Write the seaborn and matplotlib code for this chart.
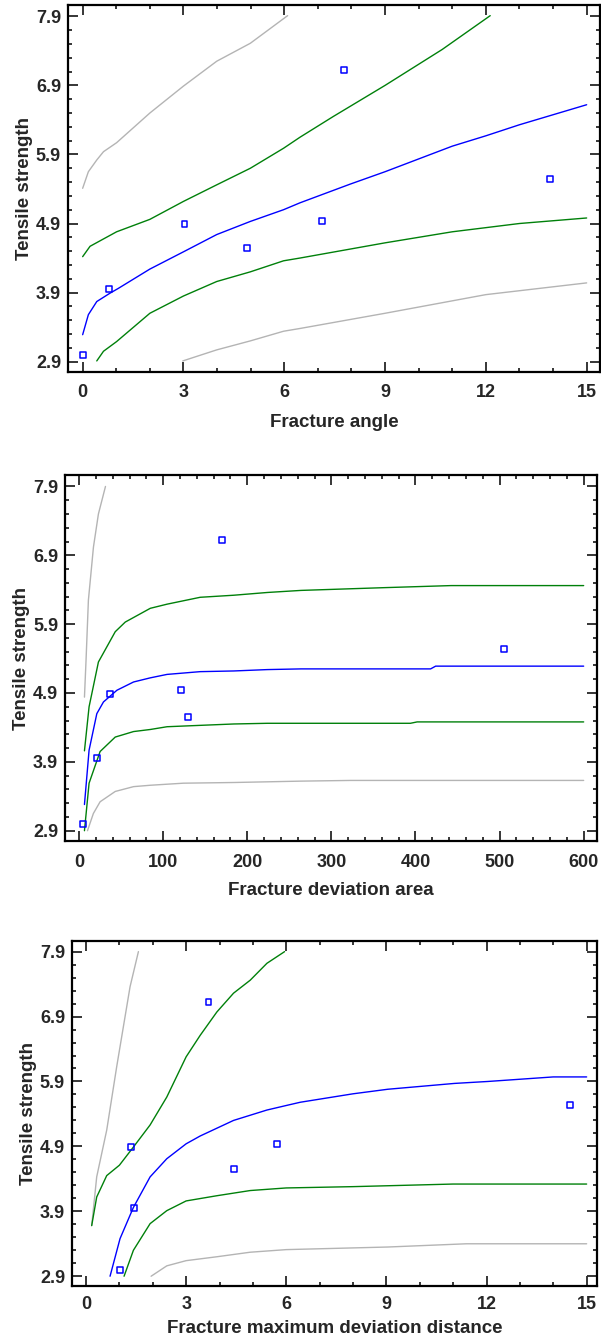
import matplotlib
matplotlib.use("Agg")
import matplotlib.pyplot as plt
from matplotlib.ticker import MultipleLocator
import seaborn as sns

# ---------------------------------------------------------
# Observed points (same tensile strengths in every panel)
# ---------------------------------------------------------
STRENGTH = [3.00, 3.95, 4.89, 4.55, 4.94, 7.12, 5.54]
ANGLE = [0.0, 0.78, 3.03, 4.88, 7.12, 7.79, 13.9]
DEV_AREA = [4.4, 21.8, 36.5, 129.4, 121.0, 170.0, 505.6]
MAX_DIST = [1.02, 1.44, 1.36, 4.44, 5.72, 3.67, 14.51]

# ---------------------------------------------------------
# Panel 1 curves: fit, confidence limits, prediction limits
# ---------------------------------------------------------
P1_FIT_X = [0.0, 0.17, 0.42, 0.81, 1.06, 2.0, 3.0, 3.99, 4.99, 5.98, 6.47, 7.96, 9.0, 11.0, 12.0, 13.0, 15.0]
P1_FIT_Y = [3.29, 3.58, 3.77, 3.89, 3.96, 4.24, 4.49, 4.74, 4.93, 5.10, 5.20, 5.47, 5.65, 6.02, 6.17, 6.33, 6.62]
P1_CU_X = [0.0, 0.22, 0.52, 1.01, 2.0, 3.0, 3.99, 4.99, 5.98, 6.47, 7.46, 9.0, 10.7, 12.13]
P1_CU_Y = [4.42, 4.57, 4.65, 4.78, 4.96, 5.22, 5.46, 5.70, 5.99, 6.15, 6.45, 6.90, 7.42, 7.91]
P1_CL_X = [0.42, 0.62, 1.01, 2.0, 3.0, 3.99, 4.99, 5.98, 6.47, 9.0, 11.0, 13.0, 15.0]
P1_CL_Y = [2.91, 3.05, 3.19, 3.60, 3.85, 4.06, 4.20, 4.36, 4.40, 4.62, 4.78, 4.90, 4.98]
P1_PU_X = [0.0, 0.17, 0.42, 0.62, 1.01, 2.0, 3.0, 3.99, 4.99, 6.10]
P1_PU_Y = [5.41, 5.65, 5.82, 5.94, 6.07, 6.50, 6.89, 7.25, 7.51, 7.91]
P1_PL_X = [2.98, 3.99, 4.99, 5.98, 6.47, 9.0, 12.0, 15.0]
P1_PL_Y = [2.91, 3.07, 3.20, 3.34, 3.38, 3.60, 3.87, 4.04]

# ---------------------------------------------------------
# Panel 2 curves
# ---------------------------------------------------------
P2_FIT_X = [6.4, 11.9, 21.1, 29, 45, 64.8, 84.7, 104.6, 144, 184, 224, 264, 418, 424, 600]
P2_FIT_Y = [3.28, 4.07, 4.60, 4.77, 4.94, 5.06, 5.12, 5.17, 5.21, 5.22, 5.24, 5.25, 5.25, 5.29, 5.29]
P2_CU_X = [6.4, 11.9, 23, 43, 54.9, 84.7, 104.6, 144, 184, 224, 264, 363, 442.5, 600]
P2_CU_Y = [4.06, 4.70, 5.35, 5.79, 5.93, 6.13, 6.19, 6.29, 6.32, 6.36, 6.39, 6.43, 6.46, 6.46]
P2_CL_X = [6.4, 11.9, 25, 43, 64.8, 84.7, 104.6, 144, 184, 224, 394, 402, 600]
P2_CL_Y = [2.90, 3.59, 4.05, 4.26, 4.34, 4.37, 4.41, 4.43, 4.45, 4.46, 4.46, 4.48, 4.48]
P2_PU_X = [6.4, 8.3, 11.1, 17.1, 23, 31.4]
P2_PU_Y = [4.84, 5.38, 6.25, 7.02, 7.50, 7.90]
P2_PL_X = [10, 17, 25, 43, 64.8, 84.7, 124, 184, 264, 323, 600]
P2_PL_Y = [2.90, 3.15, 3.32, 3.47, 3.54, 3.56, 3.59, 3.60, 3.62, 3.63, 3.63]

# ---------------------------------------------------------
# Panel 3 curves
# ---------------------------------------------------------
P3_FIT_X = [0.72, 1.02, 1.42, 1.92, 2.42, 3.0, 3.42, 4.42, 5.42, 6.0, 6.42, 8.0, 9.04, 11.04, 12.04, 14.0, 15.0]
P3_FIT_Y = [2.90, 3.48, 3.96, 4.43, 4.71, 4.94, 5.06, 5.30, 5.46, 5.53, 5.58, 5.71, 5.78, 5.87, 5.90, 5.97, 5.97]
P3_CU_X = [0.17, 0.32, 0.62, 1.0, 1.42, 1.92, 2.42, 3.0, 3.42, 3.92, 4.42, 4.92, 5.42, 5.95]
P3_CU_Y = [3.68, 4.12, 4.45, 4.61, 4.89, 5.23, 5.66, 6.28, 6.61, 6.97, 7.26, 7.46, 7.72, 7.90]
P3_CL_X = [1.14, 1.42, 1.92, 2.42, 3.0, 3.92, 4.92, 6.0, 8.0, 11.0, 15.0]
P3_CL_Y = [2.90, 3.30, 3.71, 3.91, 4.06, 4.14, 4.22, 4.26, 4.28, 4.32, 4.32]
P3_PU_X = [0.17, 0.32, 0.62, 0.92, 1.32, 1.57]
P3_PU_Y = [3.68, 4.43, 5.15, 6.13, 7.36, 7.90]
P3_PL_X = [1.95, 2.42, 3.0, 3.92, 4.92, 6.0, 9.04, 11.4, 15.0]
P3_PL_Y = [2.90, 3.06, 3.14, 3.20, 3.27, 3.31, 3.35, 3.40, 3.40]

X_LABELS = ["Fracture angle", "Fracture deviation area",
            "Fracture maximum deviation distance"]

BLUE = "#0000ff"
GREEN = "#00800a"
GRAY = "#b4b4b4"


def draw_panel(ax, pts_x, curves, xlabel, xlim, xmajor, xminor, xpad, xlabelpad):
    fit, cu, cl, pu, pl = curves
    for (cx, cy), col in [(pu, GRAY), (pl, GRAY), (cu, GREEN), (cl, GREEN), (fit, BLUE)]:
        sns.lineplot(x=cx, y=cy, ax=ax, color=col, lw=1.0,
                     estimator=None, sort=False)
    sns.scatterplot(x=pts_x, y=STRENGTH, ax=ax, marker="s", s=18,
                    facecolor="none", edgecolor=BLUE, linewidth=1.1, zorder=5)

    ax.set_xlim(*xlim)
    ax.set_ylim(2.75, 8.065)
    ax.xaxis.set_major_locator(MultipleLocator(xmajor))
    ax.xaxis.set_minor_locator(MultipleLocator(xminor))
    ax.yaxis.set_major_locator(MultipleLocator(1.0, offset=0.9))
    ax.yaxis.set_minor_locator(MultipleLocator(0.2, offset=0.1))
    ax.tick_params(which="both", direction="in", top=True, right=True,
                   width=1.3, labelsize=13)
    ax.tick_params(which="major", length=7)
    ax.tick_params(which="minor", length=3)
    ax.tick_params(axis="x", pad=xpad)
    ax.tick_params(axis="y", pad=5)
    for sp in ax.spines.values():
        sp.set_visible(True)
        sp.set_linewidth(1.6)
        sp.set_color("black")
    ax.set_xlabel(xlabel, fontsize=13.5, fontweight="bold", labelpad=xlabelpad)
    ax.set_ylabel("Tensile strength", fontsize=13.5, fontweight="bold", labelpad=2)


sns.set_style("ticks")
plt.rcParams["font.family"] = ["Liberation Sans", "DejaVu Sans"]
plt.rcParams["font.weight"] = "bold"

fig = plt.figure(figsize=(6.01, 13.39), dpi=100)
ax1 = fig.add_axes([0.1131, 0.7222, 0.8852, 0.2741])
ax2 = fig.add_axes([0.1082, 0.3719, 0.8852, 0.2733])
ax3 = fig.add_axes([0.1198, 0.0396, 0.8735, 0.2577])

draw_panel(ax1, ANGLE,
           [(P1_FIT_X, P1_FIT_Y), (P1_CU_X, P1_CU_Y), (P1_CL_X, P1_CL_Y),
            (P1_PU_X, P1_PU_Y), (P1_PL_X, P1_PL_Y)],
           X_LABELS[0], (-0.437, 15.397), 3, 1, 9, 9)
draw_panel(ax2, DEV_AREA,
           [(P2_FIT_X, P2_FIT_Y), (P2_CU_X, P2_CU_Y), (P2_CL_X, P2_CL_Y),
            (P2_PU_X, P2_PU_Y), (P2_PL_X, P2_PL_Y)],
           X_LABELS[1], (-16.7, 615.9), 100, 20, 9.5, 8)
draw_panel(ax3, MAX_DIST,
           [(P3_FIT_X, P3_FIT_Y), (P3_CU_X, P3_CU_Y), (P3_CL_X, P3_CL_Y),
            (P3_PU_X, P3_PU_Y), (P3_PL_X, P3_PL_Y)],
           X_LABELS[2], (-0.42, 15.31), 3, 1, 7.5, 5)

fig.savefig("out.png", dpi=100)
plt.close(fig)
